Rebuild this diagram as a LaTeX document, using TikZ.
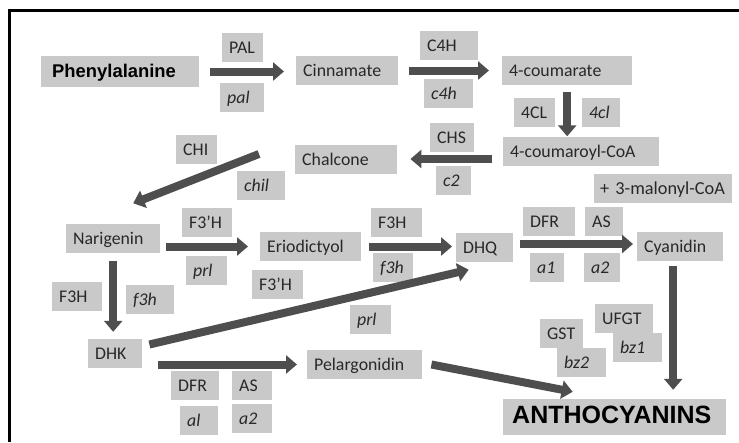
\documentclass[tikz,border=0pt]{standalone}
\usepackage{fontspec}
\setmainfont{Carlito}
\newfontfamily\headfont{Liberation Sans}
\usetikzlibrary{arrows.meta}
\definecolor{boxgray}{RGB}{201,201,201}
\definecolor{labeltext}{RGB}{40,40,40}
\definecolor{arrowgray}{RGB}{78,78,78}
\tikzset{
  box/.style={fill=boxgray, text=labeltext, anchor=west, minimum height=29pt, inner xsep=7pt, inner ysep=0pt,
    align=left, text height=15pt, text depth=3pt, font=\fontsize{17.8}{20}\selectfont},
  gene/.style={box, font=\fontsize{17.8}{20}\selectfont\itshape},
  title/.style={box, text=black, font=\headfont\bfseries\fontsize{18.4}{20}\selectfont},
  flow/.style={draw=arrowgray, line width=8pt, -{Triangle[length=11pt,width=18pt]}}
}
\begin{document}
\begin{tikzpicture}[x=1pt,y=-1pt]
        \useasboundingbox (0,0) rectangle (739,442);
        \draw[line width=2.5pt] (9.5,442) -- (9.5,10.5) -- (739,10.5);
        \node[title, inner xsep=11pt, minimum height=31pt, text width=136pt] (phe) at (41,71.5) {Phenylalanine};
        \node[box, text width=27pt] (pal) at (222,47) {PAL};
        \node[gene, text width=30pt] (palg) at (220,97.5) {pal};
        \node[box, text width=88pt] (cin) at (296,70.5) {Cinnamate};
        \node[box, text width=44pt] (c4h) at (420,45.5) {C4H};
        \node[gene, text width=35pt] (c4hg) at (424,93.5) {c4h};
        \node[box, text width=116pt] (coum) at (502,70.5) {4-coumarate};
        \node[box, text width=27pt] (fcl) at (514,112.5) {4CL};
        \node[gene, text width=24pt] (fclg) at (582,112.5) {4cl};
        \node[box, text width=142pt] (coa) at (503,151) {4-coumaroyl-CoA};
        \node[box, text width=30pt] (chs) at (430,137) {CHS};
        \node[gene, text width=21pt] (chsg) at (436,180.5) {c2};
        \node[box, text width=88pt] (chal) at (295,159) {Chalcone};
        \node[box, text width=27pt] (chi) at (176,149.5) {CHI};
        \node[gene, text width=34pt] (chig) at (237,185.5) {chil};
        \node[box, inner xsep=6pt, text width=126pt, font=\fontsize{18.3}{20}\selectfont] (mal) at (594,188.5) {+ 3-malonyl-CoA};
        \node[box, text width=80pt] (nar) at (66,238) {Narigenin};
        \node[box, text width=36pt] (fph1) at (182,222.5) {F3’H};
        \node[gene, text width=27pt] (prl1) at (186,270.5) {prl};
        \node[box, text width=87pt] (erio) at (260,246.5) {Eriodictyol};
        \node[box, text width=37pt] (fph2) at (252,284.5) {F3’H};
        \node[box, text width=36pt] (fh1) at (52,296) {F3H};
        \node[gene, text width=34pt] (fhg1) at (126,299.5) {f3h};
        \node[box, text width=40pt] (dhk) at (88,353.5) {DHK};
        \node[box, text width=101pt] (pel) at (307,364.5) {Pelargonidin};
        \node[box, text width=34pt] (dfr1) at (171,385.5) {DFR};
        \node[box, text width=26pt] (as1) at (232,385) {AS};
        \node[gene, text width=24pt] (alg) at (180,420) {al};
        \node[gene, text width=26pt] (atg1) at (232,418.5) {a2};
        \node[box, text width=37pt] (fh2) at (371,222.5) {F3H};
        \node[gene, text width=26pt] (fhg2) at (373,267) {f3h};
        \node[box, text width=43pt] (dhq) at (456,247) {DHQ};
        \node[gene, text width=27pt] (prl2) at (350,319) {prl};
        \node[box, text width=38pt] (dfr2) at (523,221.5) {DFR};
        \node[box, text width=24pt] (as2) at (585,221.5) {AS};
        \node[gene, text width=20pt] (aog) at (530,267.5) {a1};
        \node[gene, text width=22pt] (atg2) at (584,267.5) {a2};
        \node[box, text width=72pt] (cya) at (637,246) {Cyanidin};
        \node[box, text width=44pt] (ufgt) at (595,318.5) {UFGT};
        \node[gene, text width=35pt] (bzo) at (613,347.5) {bz1};
        \node[box, text width=29pt] (gst) at (540,333.5) {GST};
        \node[gene, text width=35pt] (bzt) at (557,362.5) {bz2};
        \node[title, inner xsep=9pt, minimum height=36pt, text width=205pt, font=\headfont\bfseries\fontsize{25}{27}\selectfont] (antho) at (503,417) {ANTHOCYANINS};
        \draw[flow] ([xshift=11pt]phe.east) -- ([xshift=-12pt]phe.east -| cin.west);
        \draw[flow] ([xshift=11pt]cin.east) -- ([xshift=-13pt]cin.east -| coum.west);
        \draw[flow] ([yshift=-7pt]coum.south) -- (coum.south |- coa.north);
        \draw[flow] ([xshift=-11pt]coa.west |- chal.east) -- ([xshift=13pt]chal.east);
        \draw[flow] ([shift={(-36,-5)}]chal.west) -- ([shift={(20,-20)}]nar.north);
        \draw[flow] ([xshift=6pt]nar.east |- erio.west) -- ([xshift=-12pt]erio.west);
        \draw[flow] ([yshift=-8pt]nar.south) -- ([yshift=7pt]nar.south |- dhk.north);
        \draw[flow] ([xshift=8pt]erio.east) -- ([xshift=-4pt]erio.east -| dhq.west);
        \draw[flow] ([shift={(7,-9)}]dhk.east) -- ([shift={(-16,8)}]dhq.south);
        \draw[flow] ([xshift=16pt]dhk.east |- pel.west) -- ([xshift=-10pt]pel.west);
        \draw[flow] ([xshift=7pt,yshift=3pt]dhq.east) -- ([xshift=-4pt,yshift=3pt]dhq.east -| cya.west);
        \draw[flow] ([xshift=-7pt,yshift=-5pt]cya.south) -- ([xshift=-7pt,yshift=9pt]cya.south |- antho.north);
        \draw[flow] ([xshift=9pt]pel.east) -- ([shift={(-42,-7)}]antho.north);
\end{tikzpicture}
\end{document}
